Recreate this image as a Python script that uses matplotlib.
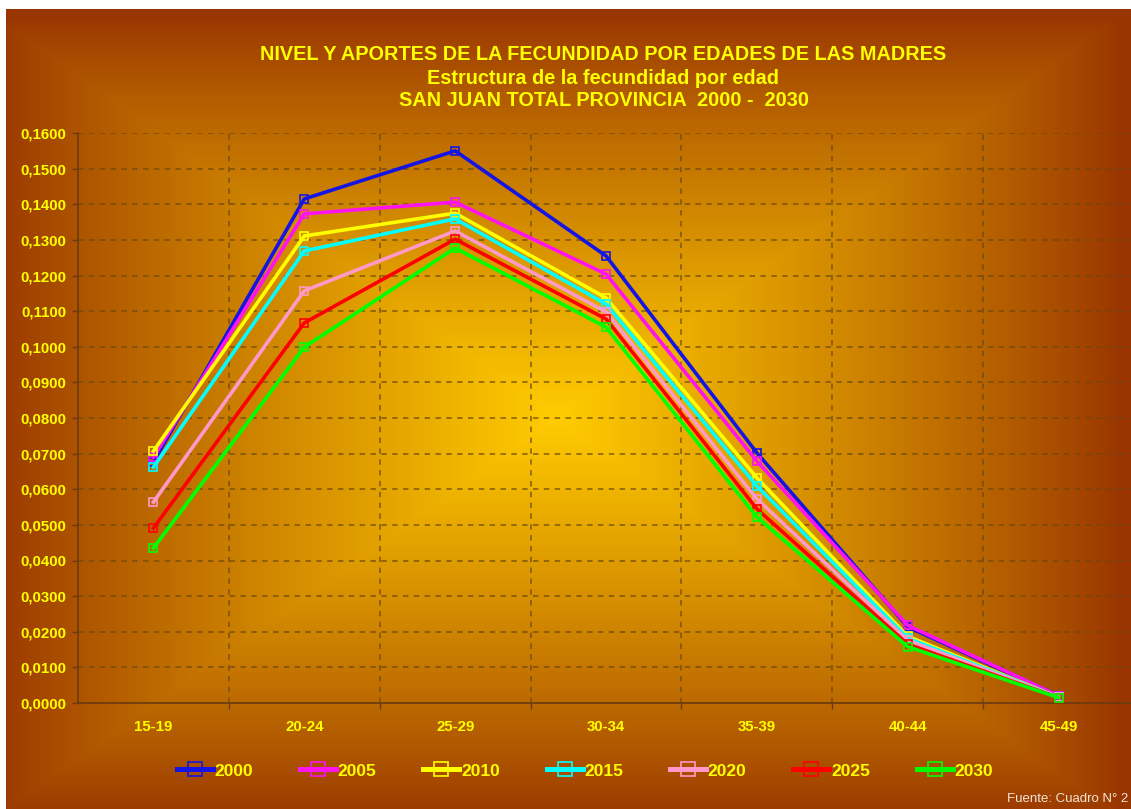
import matplotlib.pyplot as plt
import numpy as np
from matplotlib.ticker import FuncFormatter, FixedLocator

# Estructura de la fecundidad por edad, San Juan 2000 - 2030
edades = ["15-19", "20-24", "25-29", "30-34", "35-39", "40-44", "45-49"]
anios = ["2000", "2005", "2010", "2015", "2020", "2025", "2030"]

y2000 = [0.0677, 0.1415, 0.1550, 0.1255, 0.0702, 0.0214, 0.0020]
y2005 = [0.0690, 0.1373, 0.1406, 0.1204, 0.0679, 0.0218, 0.0020]
y2010 = [0.0707, 0.1311, 0.1375, 0.1137, 0.0632, 0.0187, 0.0016]
y2015 = [0.0662, 0.1269, 0.1359, 0.1120, 0.0609, 0.0182, 0.0016]
y2020 = [0.0564, 0.1157, 0.1325, 0.1098, 0.0573, 0.0176, 0.0016]
y2025 = [0.0491, 0.1067, 0.1302, 0.1078, 0.0545, 0.0165, 0.0015]
y2030 = [0.0435, 0.0999, 0.1277, 0.1055, 0.0522, 0.0158, 0.0015]

series = [y2000, y2005, y2010, y2015, y2020, y2025, y2030]
colores = ["#1414E6", "#FF14F0", "#FFFF00", "#00FFFF", "#FF99C8", "#FF0000", "#00FF00"]

AMARILLO = "#FFFF00"
FUENTE = "Liberation Sans"


def _fondo(w: int = 1125, h: int = 800) -> np.ndarray:
    # degradado rectangular desde el centro (amarillo) hacia los bordes (marron)
    xx = np.linspace(-1, 1, w)[None, :]
    yy = np.linspace(-1, 1, h)[:, None]
    t = np.maximum(np.abs(xx + 0.02), np.abs(yy - 0.02))
    s = np.clip(1 - t, 0, 1) ** 0.85
    borde = np.array([0.60, 0.21, 0.0])
    centro = np.array([1.0, 0.80, 0.0])
    return borde + (centro - borde) * s[..., None]


fig = plt.figure(figsize=(11.31, 8.09), dpi=100)
fig.patch.set_facecolor("white")

bg = fig.add_axes([6 / 1131, 0, 1125 / 1131, 800 / 809])
bg.imshow(_fondo(), aspect="auto", extent=[0, 1, 0, 1], interpolation="bilinear")
bg.axis("off")

ax = fig.add_axes([78 / 1131, 106 / 809, 1053 / 1131, 570 / 809])
ax.set_facecolor("none")

x = np.arange(len(edades))
for anio, vals, c in zip(anios, series, colores):
    ax.plot(x, vals, color=c, lw=2.6, marker="s", ms=6, mfc="none",
            mew=1.2, label=anio, zorder=3)

ax.set_xlim(-0.5, 6.48)
ax.set_ylim(0, 0.16)

ax.yaxis.set_major_locator(FixedLocator(np.arange(0, 0.1601, 0.01)))
ax.yaxis.set_major_formatter(FuncFormatter(lambda v, p: f"{v:.4f}".replace(".", ",")))
ax.set_xticks(x)
ax.set_xticklabels(edades)
ax.xaxis.set_minor_locator(FixedLocator(np.arange(0.5, 6.0, 1.0)))

ax.tick_params(axis="y", length=4, width=1, color="#6b3a10", pad=4.5)
ax.tick_params(axis="x", which="major", length=0, pad=12)
ax.tick_params(axis="x", which="minor", length=4, width=1, color="#6b3a10")
for lab in ax.get_yticklabels() + ax.get_xticklabels():
    lab.set_color(AMARILLO)
    lab.set_fontweight("bold")
    lab.set_fontsize(10.8)
    lab.set_family(FUENTE)

grid_kw = dict(color="#6a4810", alpha=0.7, lw=1.3, ls=(0, (3, 3)))
ax.grid(which="major", axis="y", **grid_kw)
ax.grid(which="minor", axis="x", **grid_kw)
ax.set_axisbelow(True)

for lado in ["top", "right"]:
    ax.spines[lado].set_visible(False)
for lado in ["left", "bottom"]:
    ax.spines[lado].set_color("#6b3a10")
    ax.spines[lado].set_linewidth(1.2)

# titulos
titulo_kw = dict(ha="center", va="center", color=AMARILLO, fontsize=14.3,
                 fontweight="bold", family=FUENTE)
fig.text(603 / 1131, 1 - 55 / 809,
         "NIVEL Y APORTES DE LA FECUNDIDAD POR EDADES DE LAS MADRES", **titulo_kw)
fig.text(603 / 1131, 1 - 78 / 809, "Estructura de la fecundidad por edad", **titulo_kw)
fig.text(604 / 1131, 1 - 101 / 809, "SAN JUAN TOTAL PROVINCIA  2000 -  2030", **titulo_kw)

leg = fig.legend(*ax.get_legend_handles_labels(), loc="center", ncol=7,
                 bbox_to_anchor=(585 / 1131, 1 - 771 / 809), frameon=False,
                 handlelength=2.07, handletextpad=0.1, columnspacing=2.7,
                 markerscale=1.7, prop={"family": FUENTE, "weight": "bold", "size": 12.5})
for t in leg.get_texts():
    t.set_color(AMARILLO)
for h in leg.legend_handles:
    h.set_linewidth(3.6)

fig.text(1128 / 1131, 1 - 799 / 809, "Fuente: Cuadro N° 2", ha="right", va="center",
         color="#F2E4D6", fontsize=9.5, family=FUENTE)

fig.savefig("out.png", dpi=100)
